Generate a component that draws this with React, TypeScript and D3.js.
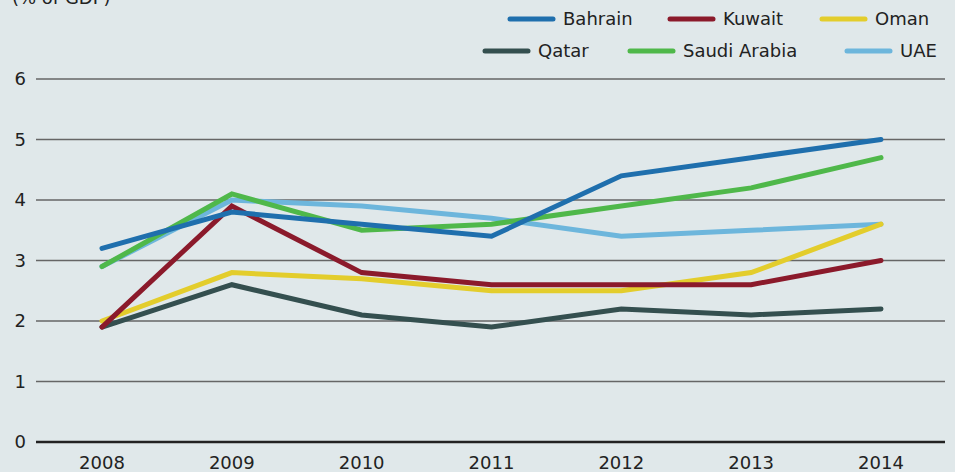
import React, { useEffect, useRef } from 'react';
import * as d3 from 'd3';

const years = ['2008', '2009', '2010', '2011', '2012', '2013', '2014'];
const bahrain = [3.2, 3.8, 3.6, 3.4, 4.4, 4.7, 5.0];
const kuwait = [1.9, 3.9, 2.8, 2.6, 2.6, 2.6, 3.0];
const oman = [2.0, 2.8, 2.7, 2.5, 2.5, 2.8, 3.6];
const qatar = [1.9, 2.6, 2.1, 1.9, 2.2, 2.1, 2.2];
const saudi = [2.9, 4.1, 3.5, 3.6, 3.9, 4.2, 4.7];
const uae = [2.9, 4.0, 3.9, 3.7, 3.4, 3.5, 3.6];
const yTicks = [0, 1, 2, 3, 4, 5, 6];

const W = 955;
const H = 472;
const FONT = '"DejaVu Sans", sans-serif';

export default function App() {
  const ref = useRef<SVGSVGElement>(null);

  useEffect(() => {
    const svg = d3.select(ref.current);
    svg.selectAll('*').remove();

    const series = [
      { name: 'Qatar', color: '#344f4f', values: qatar },
      { name: 'UAE', color: '#6db6dc', values: uae },
      { name: 'Saudi Arabia', color: '#4fb84a', values: saudi },
      { name: 'Oman', color: '#e3cd2c', values: oman },
      { name: 'Kuwait', color: '#8b1a2b', values: kuwait },
      { name: 'Bahrain', color: '#1f6fad', values: bahrain },
    ];

    const x = d3.scalePoint().domain(years).range([102, 881]);
    const y = d3.scaleLinear().domain([0, 6]).range([442, 79]);

    svg.append('rect').attr('width', W).attr('height', H).attr('fill', '#e0e8ea');

    // title
    svg
      .append('text')
      .attr('x', 12)
      .attr('y', 4)
      .attr('font-family', FONT)
      .attr('font-size', 18)
      .attr('fill', '#222')
      .text('(% of GDP)');

    // grid
    const grid = svg.append('g');
    grid
      .selectAll('line')
      .data(yTicks.filter(d => d > 0))
      .join('line')
      .attr('x1', 36)
      .attr('x2', 945)
      .attr('y1', d => y(d))
      .attr('y2', d => y(d))
      .attr('stroke', '#666')
      .attr('stroke-width', 1.5);

    svg
      .append('g')
      .selectAll('text')
      .data(yTicks)
      .join('text')
      .attr('x', 26)
      .attr('y', d => y(d))
      .attr('dy', '0.35em')
      .attr('text-anchor', 'end')
      .attr('font-family', FONT)
      .attr('font-size', 18)
      .attr('fill', '#222')
      .text(d => d);

    svg
      .append('g')
      .selectAll('text')
      .data(years)
      .join('text')
      .attr('x', d => x(d)!)
      .attr('y', 469)
      .attr('text-anchor', 'middle')
      .attr('font-family', FONT)
      .attr('font-size', 18)
      .attr('fill', '#222')
      .text(d => d);

    const line = d3
      .line<number>()
      .x((d, i) => x(years[i])!)
      .y(d => y(d));

    svg
      .append('g')
      .selectAll('path')
      .data(series)
      .join('path')
      .attr('d', d => line(d.values))
      .attr('fill', 'none')
      .attr('stroke', d => d.color)
      .attr('stroke-width', 5)
      .attr('stroke-linecap', 'round')
      .attr('stroke-linejoin', 'miter');

    // zero axis line
    svg
      .append('line')
      .attr('x1', 36)
      .attr('x2', 945)
      .attr('y1', y(0))
      .attr('y2', y(0))
      .attr('stroke', '#222')
      .attr('stroke-width', 2.5);

    // legend
    const legend = [
      { name: 'Bahrain', color: '#1f6fad', lx: 510, ly: 19 },
      { name: 'Kuwait', color: '#8b1a2b', lx: 670, ly: 19 },
      { name: 'Oman', color: '#e3cd2c', lx: 822, ly: 19 },
      { name: 'Qatar', color: '#344f4f', lx: 485, ly: 51 },
      { name: 'Saudi Arabia', color: '#4fb84a', lx: 630, ly: 51 },
      { name: 'UAE', color: '#6db6dc', lx: 847, ly: 51 },
    ];
    const lg = svg.append('g').selectAll('g').data(legend).join('g');
    lg.append('line')
      .attr('x1', d => d.lx)
      .attr('x2', d => d.lx + 43)
      .attr('y1', d => d.ly)
      .attr('y2', d => d.ly)
      .attr('stroke', d => d.color)
      .attr('stroke-width', 5)
      .attr('stroke-linecap', 'round');
    lg.append('text')
      .attr('x', d => d.lx + 53)
      .attr('y', d => d.ly)
      .attr('dy', '0.35em')
      .attr('font-family', FONT)
      .attr('font-size', 18)
      .attr('fill', '#222')
      .text(d => d.name);
  }, []);

  return (
    <div style={{ position: 'absolute', left: 0, top: 0 }}>
      <svg ref={ref} width={W} height={H} style={{ display: 'block' }} />
    </div>
  );
}
